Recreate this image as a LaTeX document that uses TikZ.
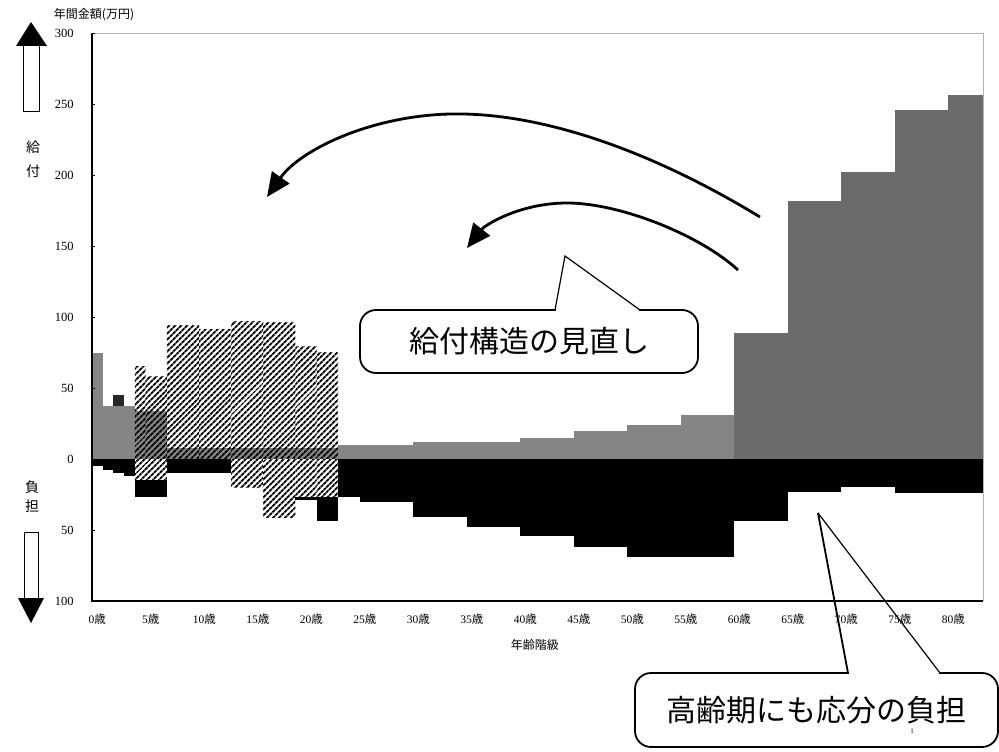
\documentclass[tikz,border=0pt]{standalone}
\usepackage{fontspec}
\setmainfont{Liberation Serif}
\newfontfamily\jp{Noto Sans CJK JP}
\usetikzlibrary{positioning,patterns.meta,arrows.meta}
\begin{document}
\begin{tikzpicture}[x=1pt,y=-1pt,
		ben/.style={fill=black!58},low/.style={fill=black!48},
		kid/.style={pattern={Lines[angle=45,distance=4pt,line width=2pt]}},
		bur/.style={fill=black},
		ylab/.style={anchor=east,inner sep=1pt,font=\fontsize{12.5}{12}\selectfont},
		xlab/.style={inner sep=1pt,font=\fontsize{11.5}{11}\selectfont},
		jlab/.style={inner sep=0pt,font=\jp\fontsize{12}{12}\selectfont},
		side/.style={inner sep=0pt,font=\jp\fontsize{14}{14}\selectfont},
		callout/.style={draw,line width=1.8pt,rounded corners=16pt,fill=white,
				inner sep=0pt,font=\jp\fontsize{30}{30}\selectfont},
		bigarrow/.style={line width=2.8pt,-{Triangle[length=24pt,width=21pt]}}]
	\useasboundingbox (0,0) rectangle (999,752);
	\begin{scope}[shift={(92,459)},x=10.7pt,y=1.42pt]
		% benefits
		\foreach \a/\b/\v in {0/1/75,1/4/37,4/7/34,7/23/8,23/30/10,30/40/12,
				40/45/15,45/50/20,50/55/24,55/60/31}
		\fill[low] (\a,0) rectangle (\b,\v);
		\foreach \a/\b/\v in {60/65/89,65/70/182,70/75/202,75/80/246,80/83.3/256}
		\fill[ben] (\a,0) rectangle (\b,\v);
		\fill[black!85] (2,37) rectangle (3,45);
		\foreach \a/\b/\v in {4/5/65,5/7/58,7/10/94,10/13/91,13/16/97,16/19/96,
				19/21/79,21/23/75}
		\fill[kid] (\a,0) rectangle (\b,\v);
		% burden
		\foreach \a/\b/\v in {0/1/5,1/2/8,2/3/10,3/4/12,4/7/27,7/19/10,19/21/29,
				21/23/44,23/25/27,25/30/30,30/35/41,35/40/48,40/45/54,45/50/62,
				50/60/69,60/65/44,65/70/23,70/75/20,75/83.3/24}
		\fill[bur] (\a,0) rectangle (\b,-\v);
		\foreach \a/\b/\v in {4/7/15,13/16/20,16/19/41,19/21/27,21/23/27}
		\fill[white,postaction={kid}] (\a,0) rectangle (\b,-\v);
		% frame
		\draw[gray!60] (0,300) -- (83.3,300) -- (83.3,-100);
		\draw[line width=1.2pt] (0,300) -- (0,-100) -- (83.3,-100);
		\foreach \v/\t [count=\i] in {300/300,250/250,200/200,150/150,100/100,
				50/50,0/0,-50/50,-100/100}{
			\draw (0,\v) -- ++(0.25,0);
			\node[ylab] (yt\i) at (-1.6,\v) {\t};
		}
		\foreach \a in {0,5,...,80}
		\node[xlab] (xa\a) at (\a+0.5,-113) {\a{\jp 歳}};
		\node[jlab] (xtitle) at (41.4,-131) {年齢階級};
	\end{scope}
	\node[jlab] (ytitle) at (94,15) {年間金額(万円)};
	% side arrows
	\filldraw[fill=white,line width=1pt] (23,46) rectangle (39,111);
	\fill (16,46) -- (31,22) -- (47,46) -- cycle;
	\filldraw[fill=white,line width=1pt] (24,532) rectangle (38,598);
	\fill (18,598) -- (31,623) -- (44,598) -- cycle;
	\node[side] (kyu) at (33,147) {給};
	\node[side,below=11pt of kyu] (fu) {付};
	\node[side] (fu2) at (32,487) {負};
	\node[side,below=6pt of fu2] (tan) {担};
	% curved arrows
	\coordinate (s1) at (760,217);
	\coordinate (m1) at (450,114);
	\coordinate (e1) at (267,197);
	\draw[bigarrow] (s1) .. controls (650,150) and (540,112) .. (m1)
	.. controls (370,116) and (300,150) .. (e1);
	\coordinate (s2) at (738,270);
	\coordinate (m2) at (567,203);
	\coordinate (e2) at (467,248);
	\draw[bigarrow] (s2) .. controls (700,235) and (620,203) .. (m2)
	.. controls (520,203) and (485,225) .. (e2);
	% callouts
	\node[callout,minimum width=338pt,minimum height=63pt] (c1) at (529,341.5)
	{給付構造の見直し};
	\coordinate (t1) at (565,256);
	\fill[white] (556,307) rectangle (639,313);
	\draw[line width=1.2pt] (555,310) -- (t1) -- (640,310);
	\node[callout,minimum width=363pt,minimum height=74pt] (c2) at (816.5,710)
	{高齢期にも応分の負担};
	\coordinate (t2) at (818,513);
	\fill[white] (849,670) rectangle (939,676);
	\draw[line width=1.8pt] (848,673) -- (t2);
	\draw[line width=1.2pt] (t2) -- (940,673);
	\node[inner sep=0pt,font=\fontsize{7}{7}\selectfont] (pg) at (912,731) {1};
\end{tikzpicture}
\end{document}
